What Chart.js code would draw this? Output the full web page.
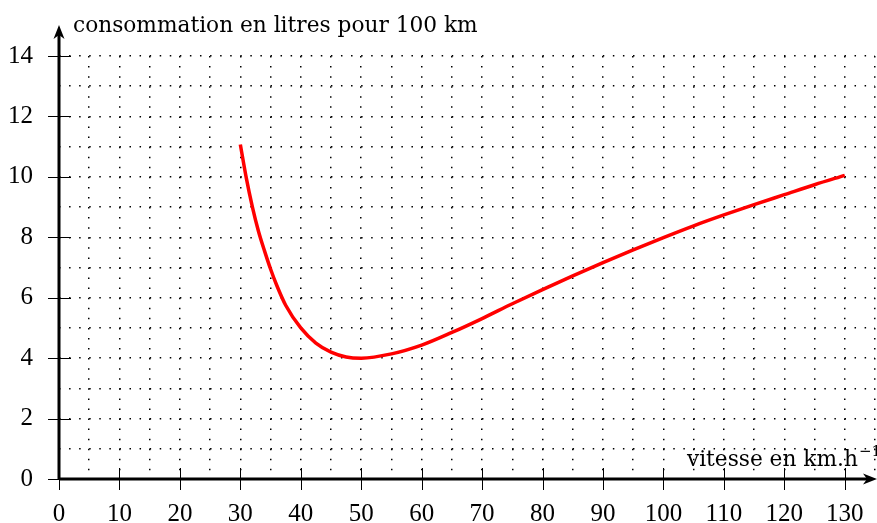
<!DOCTYPE html>
<html>
<head>
<meta charset="utf-8">
<script src="https://cdn.jsdelivr.net/npm/chart.js@4.4.1/dist/chart.umd.min.js"></script>
<style>
  body { margin: 0; background: #fff; }
  canvas { display: block; }
</style>
</head>
<body>
<canvas id="myChart" width="877" height="523"></canvas>
<script>
// vitesse (km/h) and consommation (L / 100 km)
const speeds = [30, 31, 32, 33, 34, 35, 36, 37.5, 40, 42.5, 45, 47.5, 50, 55, 60, 65, 70, 75, 80, 85, 90, 95, 100, 105, 110, 115, 120, 125, 130];
const consumption = [11.07, 9.95, 9.0, 8.2, 7.55, 6.95, 6.42, 5.75, 5.0, 4.5, 4.2, 4.04, 4.0, 4.14, 4.43, 4.85, 5.31, 5.8, 6.27, 6.72, 7.16, 7.58, 7.99, 8.38, 8.74, 9.08, 9.41, 9.74, 10.05];

const xLabels = [0, 10, 20, 30, 40, 50, 60, 70, 80, 90, 100, 110, 120, 130];
const yLabels = [0, 2, 4, 6, 8, 10, 12, 14];

const yTitle = 'consommation en litres pour 100 km';
const xTitle = 'vitesse en km.h';
const xTitleExp = '\u22121';

const TICK_FONT = '"Liberation Serif", serif';
const TITLE_FONT = '"DejaVu Serif", serif';

const line = (ctx, x1, y1, x2, y2) => {
	ctx.beginPath();
	ctx.moveTo(x1, y1);
	ctx.lineTo(x2, y2);
	ctx.stroke();
};

// axes with arrows, crossing tick marks and axis titles
const axesPlugin = {
	id: 'axes',
	afterDraw(chart) {
		const { ctx, scales: { x, y } } = chart;
		const x0 = x.getPixelForValue(0);
		const y0 = y.getPixelForValue(0);
		const right = chart.width;
		const top = 25;

		ctx.save();
		ctx.strokeStyle = '#000';
		ctx.fillStyle = '#000';

		ctx.lineWidth = 1;
		xLabels.forEach((v) => {
			const px = Math.round(x.getPixelForValue(v)) + 0.5;
			line(ctx, px, y0 - 11, px, y0 + 11);
		});
		yLabels.forEach((v) => {
			const py = Math.round(y.getPixelForValue(v)) + 0.5;
			line(ctx, x0 - 11, py, x0 + 12, py);
		});

		ctx.lineWidth = 3;
		line(ctx, x0, y0, right - 6, y0);
		line(ctx, x0, y0, x0, top + 6);

		// arrow heads
		ctx.beginPath();
		ctx.moveTo(right, y0);
		ctx.lineTo(right - 14, y0 - 5.5);
		ctx.lineTo(right - 10, y0);
		ctx.lineTo(right - 14, y0 + 5.5);
		ctx.closePath();
		ctx.fill();

		ctx.beginPath();
		ctx.moveTo(x0, top);
		ctx.lineTo(x0 - 5.5, top + 14);
		ctx.lineTo(x0, top + 10);
		ctx.lineTo(x0 + 5.5, top + 14);
		ctx.closePath();
		ctx.fill();

		ctx.font = '21.7px ' + TITLE_FONT;
		ctx.textBaseline = 'alphabetic';
		ctx.textAlign = 'left';
		ctx.fillText(yTitle, x0 + 14, 32);

		const w1 = ctx.measureText(xTitle).width;
		ctx.font = '15px ' + TITLE_FONT;
		const w2 = ctx.measureText(xTitleExp).width;
		const start = right - w1 - w2 + 3;
		ctx.font = '21.7px ' + TITLE_FONT;
		ctx.fillText(xTitle, start, y0 - 13);
		ctx.font = '15px ' + TITLE_FONT;
		ctx.fillText(xTitleExp, start + w1 + 1, y0 - 23);
		ctx.restore();
	},
};

const ctx = document.getElementById('myChart');

const myChart = new Chart(ctx, {
	type: 'line',
	data: {
		datasets: [
			{
				data: speeds.map((s, i) => ({ x: s, y: consumption[i] })),
				borderColor: 'rgb(255, 0, 0)',
				borderWidth: 3.5,
				pointRadius: 0,
				cubicInterpolationMode: 'monotone',
				fill: false,
			},
		],
	},
	options: {
		responsive: false,
		animation: false,
		layout: {
			padding: { top: 56, right: 2, left: 0, bottom: 0 },
		},
		plugins: {
			legend: { display: false },
			tooltip: { enabled: false },
		},
		scales: {
			x: {
				type: 'linear',
				min: 0,
				max: 135,
				afterFit: (scale) => {
					scale.height = 44;
					scale.paddingLeft = 0;
					scale.paddingRight = 0;
				},
				ticks: {
					stepSize: 5,
					autoSkip: false,
					maxRotation: 0,
					padding: 20,
					color: '#000',
					font: { family: TICK_FONT, size: 25 },
					callback: (v) => (xLabels.includes(v) ? String(v) : ''),
				},
				grid: {
					color: '#000',
					lineWidth: 1.5,
					drawTicks: false,
				},
				border: { display: false, dash: [1.5, 8.57] },
			},
			y: {
				min: 0,
				max: 14,
				afterFit: (scale) => {
					scale.width = 59;
					scale.paddingTop = 0;
					scale.paddingBottom = 0;
				},
				ticks: {
					stepSize: 1,
					autoSkip: false,
					padding: 26,
					color: '#000',
					font: { family: TICK_FONT, size: 25 },
					callback: (v) => (yLabels.includes(v) ? String(v) : ''),
				},
				grid: {
					color: '#000',
					lineWidth: 1.5,
					drawTicks: false,
				},
				border: { display: false, dash: [1.5, 8.57] },
			},
		},
	},
	plugins: [axesPlugin],
});
</script>
</body>
</html>
